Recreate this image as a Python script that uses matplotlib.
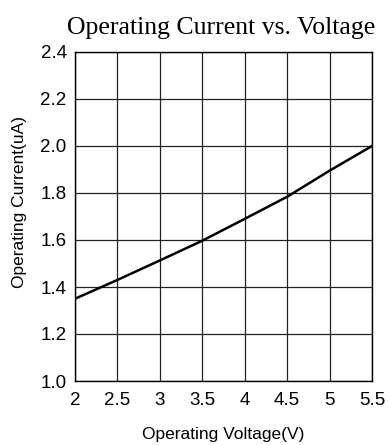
import matplotlib
matplotlib.use('Agg')
import matplotlib.pyplot as plt

voltage = [2, 2.5, 3, 3.5, 4, 4.5, 5, 5.5]
current = [1.35, 1.43, 1.513, 1.597, 1.69, 1.784, 1.895, 2.0]
xticks = [2, 2.5, 3, 3.5, 4, 4.5, 5, 5.5]
xticklabels = ['2', '2.5', '3', '3.5', '4', '4.5', '5', '5.5']
yticks = [1.0, 1.2, 1.4, 1.6, 1.8, 2.0, 2.2, 2.4]

plt.rcParams['font.family'] = ['Liberation Sans', 'DejaVu Sans']

fig = plt.figure(figsize=(3.89, 4.45), dpi=100)
ax = fig.add_axes([75/389, 1 - 381/445, 297/389, 329/445])

ax.plot(voltage, current, color='black', lw=1.8)
ax.set_xlim(2, 5.5)
ax.set_ylim(1.0, 2.4)
ax.set_xticks(xticks)
ax.set_xticklabels(xticklabels)
ax.set_yticks(yticks)
ax.set_yticklabels(['%.1f' % v for v in yticks])
ax.grid(True, color='#222222', lw=0.9)
ax.tick_params(length=0, labelsize=13.5)
ax.tick_params(axis='x', pad=8)
ax.tick_params(axis='y', pad=6)
for s in ax.spines.values():
    s.set_color('black')
    s.set_linewidth(1.0)

ax.set_xlabel('Operating Voltage(V)', fontsize=12.5, labelpad=13)
ax.set_ylabel('Operating Current(uA)', fontsize=12.5, labelpad=10, y=0.544)
ax.set_title('Operating Current vs. Voltage', fontsize=18.5,
             family='Liberation Serif', pad=13, loc='right', x=1.01)

fig.savefig('out.png', dpi=100)
